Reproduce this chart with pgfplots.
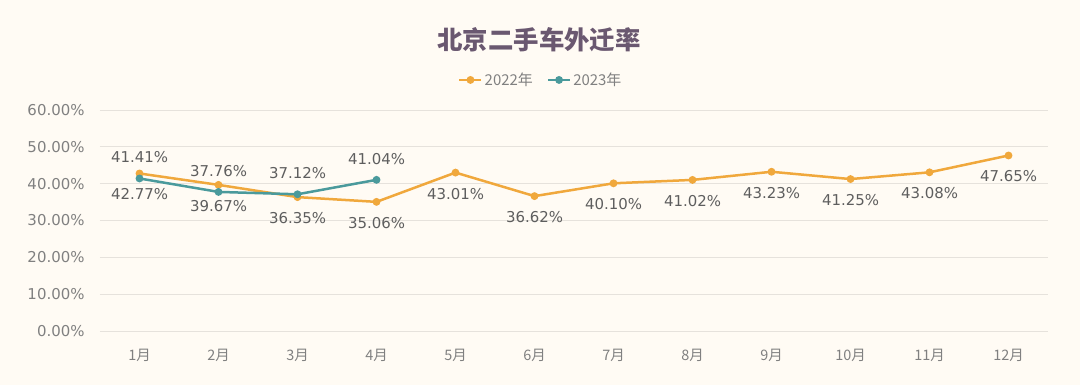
\documentclass[border=0pt]{standalone}
\usepackage{pgfplots}
\pgfplotsset{compat=1.18}
\usepackage{fontspec}
\setmainfont{DejaVu Sans}
\newfontfamily\cjk{Noto Sans CJK SC}
\definecolor{bg}{HTML}{FFFBF4}
\definecolor{orangeL}{HTML}{F0A83C}
\definecolor{tealL}{HTML}{4A9A9C}
\definecolor{gridc}{HTML}{E6E2DC}
\definecolor{tickc}{HTML}{808080}
\definecolor{labc}{HTML}{5E5E5E}
\definecolor{titlec}{HTML}{6A5870}
\begin{document}
\begin{tikzpicture}
\fill[bg] (-100bp,-54bp) rectangle (980bp,331bp);
\begin{axis}[
  scale only axis, width=948bp, height=221bp,
  xmin=0.5, xmax=12.5, ymin=0, ymax=60,
  axis line style={draw=none},
  xtick={1,...,12},
  xticklabels={1月,2月,3月,4月,5月,6月,7月,8月,9月,10月,11月,12月},
  ytick={0,10,...,60},
  yticklabels={0.00\%,10.00\%,20.00\%,30.00\%,40.00\%,50.00\%,60.00\%},
  major tick length=0pt,
  ymajorgrids, grid style={gridc, line width=0.8bp},
  xticklabel style={font=\cjk\fontsize{14.5}{14.5}\selectfont, text=tickc, yshift=-15bp},
  yticklabel style={font=\fontsize{15}{15}\selectfont, text=tickc, xshift=-12bp},
  clip=false,
  legend columns=2,
  legend style={at={(rel axis cs:0.465,1.136)}, anchor=center, draw=none, fill=none,
    font=\cjk\fontsize{15}{15}\selectfont, text=tickc,
    /tikz/every even column/.append style={column sep=12bp}},
  legend image code/.code={
    \draw[#1, line width=2.5bp] (0bp,0bp) -- (22bp,0bp);
    \fill[#1] (11bp,0bp) circle (2.6bp);
  },
  point meta=y,
  nodes near coords={\pgfmathprintnumber[fixed,fixed zerofill,precision=2,assume math mode=true]{\pgfplotspointmeta}\%},
  every node near coord/.append style={font=\fontsize{15}{15}\selectfont, text=labc},
]
\addplot[orangeL, line width=2.5bp, mark=*, mark size=2.6bp,
  every node near coord/.append style={anchor=center, yshift=-21bp}]
  coordinates {(1,42.77) (2,39.67) (3,36.35) (4,35.06) (5,43.01) (6,36.62) (7,40.10) (8,41.02) (9,43.23) (10,41.25) (11,43.08) (12,47.65)};
\addlegendentry{2022年}
\addplot[tealL, line width=2.5bp, mark=*, mark size=2.6bp,
  every node near coord/.append style={anchor=center, yshift=21bp}]
  coordinates {(1,41.41) (2,37.76) (3,37.12) (4,41.04)};
\addlegendentry{2023年}
\end{axis}
\node[font=\cjk\bfseries\fontsize{25.5}{25.5}\selectfont, text=titlec] at (439bp,291bp) {北京二手车外迁率};
\end{tikzpicture}
\end{document}
